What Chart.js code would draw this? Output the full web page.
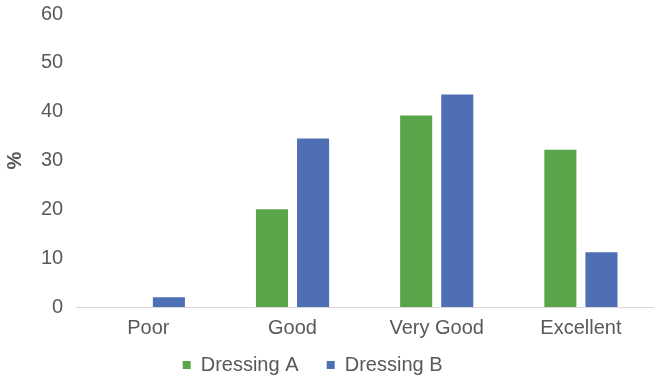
<!DOCTYPE html>
<html>
<head>
<meta charset="utf-8">
<script src="https://cdn.jsdelivr.net/npm/chart.js@4"></script>
<style>
  html, body { margin: 0; padding: 0; background: #fff; }
  #wrap { width: 658px; height: 379px; }
</style>
</head>
<body>
<div id="wrap"><canvas id="myChart" width="658" height="379"></canvas></div>
<script>
// ratings and the share (%) of each dressing
const categories = ['Poor', 'Good', 'Very Good', 'Excellent'];
const dressingA = [0, 20, 39.2, 32.2];
const dressingB = [2, 34.5, 43.5, 11.2];
const yTicks = [0, 10, 20, 30, 40, 50, 60];
const seriesNames = ['Dressing A', 'Dressing B'];

const textColor = '#595959';
const fontFamily = '"Liberation Sans", Arial, sans-serif';

// trailing spaces so the legend entries sit like the original
const legendTail = ['    ', '     '];

const ctx = document.getElementById('myChart').getContext('2d');

const myChart = new Chart(ctx, {
    type: 'bar',
    data: {
        labels: categories,
        datasets: [{
            label: seriesNames[0],
            data: dressingA,
            backgroundColor: '#5aa54a',
            categoryPercentage: 0.57,
            barPercentage: 0.78
        }, {
            label: seriesNames[1],
            data: dressingB,
            backgroundColor: '#4f6fb4',
            categoryPercentage: 0.57,
            barPercentage: 0.78
        }]
    },
    options: {
        responsive: false,
        animation: false,
        layout: { padding: { top: 14, right: 5, left: 0, bottom: -6 } },
        plugins: {
            tooltip: { enabled: false },
            legend: {
                position: 'bottom',
                labels: {
                    boxWidth: 8,
                    boxHeight: 8,
                    padding: 6,
                    color: textColor,
                    font: { family: fontFamily, size: 20 },
                    generateLabels: chart => {
                        const items = Chart.defaults.plugins.legend.labels.generateLabels(chart);
                        items.forEach((it, i) => { it.text = it.text + legendTail[i]; it.lineWidth = 0; });
                        return items;
                    }
                }
            }
        },
        scales: {
            x: {
                grid: { display: false, drawTicks: false },
                border: { color: '#d9d9d9' },
                ticks: {
                    color: textColor,
                    padding: 9,
                    font: { family: fontFamily, size: 20 }
                }
            },
            y: {
                min: 0,
                max: 60,
                afterBuildTicks: axis => { axis.ticks = yTicks.map(v => ({ value: v })); },
                grid: { display: false, drawTicks: true, tickLength: 13 },
                border: { display: false },
                ticks: {
                    color: textColor,
                    padding: 0,
                    font: { family: fontFamily, size: 20 }
                },
                title: {
                    display: true,
                    text: '%',
                    color: textColor,
                    padding: { top: 3, bottom: 14 },
                    font: { family: fontFamily, size: 20, weight: 'bold' }
                }
            }
        }
    }
});
</script>
</body>
</html>
